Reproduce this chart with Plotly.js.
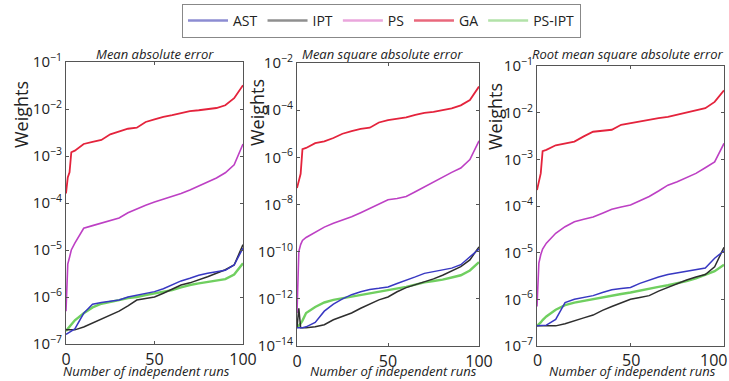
<!DOCTYPE html>
<html>
<head>
<meta charset="utf-8">
<script src="https://cdn.plot.ly/plotly-3.0.1.min.js"></script>
<style>html,body{margin:0;padding:0;background:#fff}#chart{width:729px;height:381px}</style>
</head>
<body>
<div id="chart"></div>
<script>
// Run index (sorted independent runs)
const runs = [0,1,2,3,5,10,15,20,25,30,35,40,45,50,55,60,65,70,75,80,85,90,95,100];

const seriesNames = ["AST","IPT","PS","GA","PS-IPT"];
const panelTitles = ["Mean absolute error","Mean square absolute error","Root mean square absolute error"];
const xTitle = "Number of independent runs";
const yTitle = "Weights";

// Panel 1: Mean absolute error
const ast1 = [1.6e-7,1.7e-7,1.8e-7,1.9e-7,2.1e-7,4.5e-7,7e-7,7.6e-7,8.1e-7,8.6e-7,1.0e-6,1.1e-6,1.2e-6,1.3e-6,1.5e-6,1.8e-6,2.2e-6,2.5e-6,2.9e-6,3.2e-6,3.5e-6,3.7e-6,4.8e-6,1.1e-5];
const ipt1 = [2.0e-7,2.0e-7,2.0e-7,2.0e-7,2.0e-7,2.3e-7,2.8e-7,3.5e-7,4.2e-7,5e-7,6.5e-7,8.6e-7,9.3e-7,1.0e-6,1.2e-6,1.5e-6,1.8e-6,2.0e-6,2.3e-6,2.7e-6,3.2e-6,3.8e-6,4.8e-6,1.3e-5];
const ps1  = [5e-7,5e-6,7e-6,1e-5,1.4e-5,2.9e-5,3.3e-5,3.7e-5,4.2e-5,4.8e-5,6.2e-5,7.6e-5,9e-5,1.05e-4,1.2e-4,1.35e-4,1.6e-4,1.9e-4,2.3e-4,2.8e-4,3.4e-4,4.4e-4,6.5e-4,1.8e-3];
const ga1  = [1.6e-4,3.5e-4,4.5e-4,1.2e-3,1.3e-3,1.8e-3,2.0e-3,2.2e-3,2.9e-3,3.3e-3,3.8e-3,4.0e-3,5.3e-3,6.0e-3,6.8e-3,7.4e-3,8.3e-3,9.0e-3,9.4e-3,1.0e-2,1.05e-2,1.2e-2,1.7e-2,3.2e-2];
const psipt1 = [1.9e-7,2.1e-7,2.4e-7,2.7e-7,3.2e-7,4.5e-7,6e-7,7.2e-7,8e-7,8.6e-7,9.5e-7,1.0e-6,1.1e-6,1.2e-6,1.3e-6,1.4e-6,1.6e-6,1.8e-6,1.95e-6,2.1e-6,2.2e-6,2.4e-6,3.0e-6,5.2e-6];

// Panel 2: Mean square absolute error
const ast2 = [6e-14,6e-14,6e-14,6e-14,6.5e-14,1e-13,3e-13,6e-13,1.0e-12,1.5e-12,2e-12,2.5e-12,2.8e-12,3.2e-12,4.5e-12,6e-12,8.5e-12,1.2e-11,1.4e-11,1.6e-11,2e-11,2.8e-11,6e-11,1.3e-10];
const ipt2 = [6e-14,4e-13,6e-14,6e-14,6e-14,6.5e-14,8e-14,1.3e-13,1.8e-13,2.5e-13,4e-13,6e-13,9e-13,1.2e-12,2e-12,3e-12,4e-12,5e-12,7e-12,1e-11,1.5e-11,2.3e-11,4.5e-11,1.6e-10];
const ps2  = [2.5e-13,1e-10,2e-10,3e-10,4e-10,6.5e-10,1.1e-9,1.6e-9,2.2e-9,3e-9,4.5e-9,7e-9,1.1e-8,1.6e-8,1.8e-8,2.2e-8,3.5e-8,5.6e-8,9e-8,1.5e-7,2.3e-7,3.5e-7,8e-7,5e-6];
const ga2  = [5e-8,1e-7,2e-7,2.2e-6,2.5e-6,4e-6,4.8e-6,6.6e-6,1.0e-5,1.3e-5,1.6e-5,1.8e-5,3.0e-5,3.8e-5,4.4e-5,5e-5,6.3e-5,7.6e-5,8.5e-5,1.0e-4,1.2e-4,1.6e-4,2.7e-4,1.0e-3];
const psipt2 = [6e-14,7e-14,9e-14,1.2e-13,2.5e-13,4.5e-13,7e-13,9e-13,1.05e-12,1.2e-12,1.45e-12,1.7e-12,1.95e-12,2.2e-12,2.6e-12,3.2e-12,4e-12,5e-12,5.7e-12,6.5e-12,8e-12,1e-11,1.6e-11,3.6e-11];

// Panel 3: Root mean square absolute error
const ast3 = [2.7e-7,2.7e-7,2.7e-7,2.7e-7,2.8e-7,3.7e-7,8.5e-7,1.0e-6,1.1e-6,1.2e-6,1.4e-6,1.6e-6,1.7e-6,1.8e-6,2.2e-6,2.6e-6,3.0e-6,3.4e-6,3.7e-6,4e-6,4.3e-6,4.7e-6,7.6e-6,1.1e-5];
const ipt3 = [2.7e-7,2.7e-7,2.7e-7,2.7e-7,2.7e-7,2.7e-7,3e-7,3.4e-7,4e-7,4.6e-7,5.8e-7,7e-7,8.5e-7,1.0e-6,1.1e-6,1.2e-6,1.5e-6,1.8e-6,2.2e-6,2.6e-6,3.0e-6,3.4e-6,5e-6,1.3e-5];
const ps3  = [7e-7,6e-6,9e-6,1.2e-5,1.6e-5,2.6e-5,3.6e-5,4.6e-5,5.2e-5,5.8e-5,7e-5,8.5e-5,9.5e-5,1.05e-4,1.3e-4,1.6e-4,2.1e-4,2.8e-4,3.3e-4,4e-4,5e-4,6.6e-4,8.8e-4,2.2e-3];
const ga3  = [2.2e-4,3.5e-4,5e-4,1.5e-3,1.6e-3,2e-3,2.2e-3,2.4e-3,3.1e-3,3.9e-3,4.1e-3,4.3e-3,5.5e-3,6e-3,6.5e-3,7e-3,7.6e-3,8.1e-3,9e-3,1.0e-2,1.1e-2,1.25e-2,1.7e-2,3e-2];
const psipt3 = [2.7e-7,2.9e-7,3.2e-7,3.6e-7,4.3e-7,6e-7,7.5e-7,8.5e-7,9.3e-7,1.0e-6,1.1e-6,1.2e-6,1.3e-6,1.4e-6,1.55e-6,1.7e-6,1.85e-6,2e-6,2.2e-6,2.45e-6,2.8e-6,3.3e-6,4e-6,5.5e-6];

// Y tick exponents per panel
const yExp1 = [-7,-6,-5,-4,-3,-2,-1];
const yExp2 = [-14,-12,-10,-8,-6,-4,-2];
const yExp3 = [-7,-6,-5,-4,-3,-2,-1];
const xTicks = [0,50,100];

const lineColors = {"AST":"#3838c2","IPT":"#2e2e2e","PS":"#bd40c4","GA":"#e4233c","PS-IPT":"#70cf60"};
const legendColors = {"AST":"#8c8cd2","IPT":"#8f8f8f","PS":"#eaa6dc","GA":"#e9687c","PS-IPT":"#b2e2a8"};
const lineWidths = {"AST":1.5,"IPT":1.5,"PS":1.6,"GA":1.8,"PS-IPT":2.4};

const panels = [
  {AST:ast1, IPT:ipt1, PS:ps1, GA:ga1, "PS-IPT":psipt1},
  {AST:ast2, IPT:ipt2, PS:ps2, GA:ga2, "PS-IPT":psipt2},
  {AST:ast3, IPT:ipt3, PS:ps3, GA:ga3, "PS-IPT":psipt3}
];
const drawOrder = ["GA","PS","PS-IPT","IPT","AST"];

const traces = [];
panels.forEach((p, i) => {
  const sfx = i === 0 ? "" : String(i+1);
  drawOrder.forEach(name => {
    traces.push({
      x: runs, y: p[name], type: "scatter", mode: "lines",
      xaxis: "x" + sfx, yaxis: "y" + sfx,
      line: {color: lineColors[name], width: lineWidths[name]},
      showlegend: false, hoverinfo: "skip"
    });
  });
});
// legend entries
seriesNames.forEach(name => {
  traces.push({
    x: [null], y: [null], type: "scatter", mode: "lines", name: name,
    line: {color: legendColors[name], width: 2.5}, showlegend: true
  });
});

const W = 729, H = 381;
const fx = px => px / W;
const fy = py => 1 - py / H;

function yTickText(exps){ return exps.map(e => "10<sup>" + (e < 0 ? "\u2212" : "") + Math.abs(e) + "</sup>"); }

const tickFont = {family: "Open Sans, sans-serif", size: 15, color: "#222"};
const xTickFont = {family:"Open Sans, sans-serif", size: 16, color:"#222"};
function xAxis(dom, anchor, showLabels){
  return {domain: dom, anchor: anchor, range: [0,100], tickvals: xTicks, ticktext: xTicks.map(String),
    showticklabels: showLabels,
    showline: true, mirror: "ticks", linecolor: "#555", linewidth: 1, ticks: "inside", ticklen: 3,
    tickcolor: "#555", showgrid: false, zeroline: false,
    tickfont: xTickFont, ticklabelstandoff: 1};
}
function yAxis(dom, anchor, exps){
  return {domain: dom, anchor: anchor, type: "log", range: [exps[0], exps[exps.length-1]],
    tickvals: exps.map(e => Math.pow(10, e)), ticktext: yTickText(exps),
    showline: true, mirror: "ticks", linecolor: "#555", linewidth: 1, ticks: "inside", ticklen: 3,
    tickcolor: "#555", showgrid: false, zeroline: false, tickfont: tickFont};
}

const xd = [[fx(66), fx(243)], [fx(297), fx(479)], [fx(537), fx(724)]];
const yd = [[fy(344), fy(62)], [fy(346), fy(63)], [fy(346), fy(66)]];

const annFont = {family: "Open Sans, sans-serif", size: 13, color: "#222", style: "italic"};
const annotations = [];
const titleX = [155, 382, 627];
const xTitleX = [146, 394, 632];
const yTitleX = [21, 257, 495];
const yTitleY = [115, 113, 117];
for (let i = 0; i < 3; i++) {
  annotations.push({xref:"paper", yref:"paper", x: fx(titleX[i]), y: fy(54), text: panelTitles[i],
    showarrow: false, font: annFont, xanchor: "center", yanchor: "middle"});
  annotations.push({xref:"paper", yref:"paper", x: fx(xTitleX[i]), y: fy(381), text: xTitle,
    showarrow: false, font: annFont, xanchor: "center", yanchor: "bottom", borderpad: 0});
  annotations.push({xref:"paper", yref:"paper", x: fx(yTitleX[i]), y: fy(yTitleY[i]), text: yTitle,
    showarrow: false, textangle: -90, font: {family:"Open Sans, sans-serif", size: 18, color:"#222"},
    xanchor: "center", yanchor: "middle"});
}
// Panel 3 x tick labels placed on its own axis scale (last one kept inside the page edge)
xTicks.forEach((t, k) => {
  const last = k === xTicks.length - 1;
  annotations.push({xref: "x3", yref: "paper", x: t, y: fy(347), yanchor: "top",
    xanchor: last ? "right" : "center", xshift: last ? 5 : 0,
    text: String(t), showarrow: false, font: xTickFont});
});

const layout = {
  width: W, height: H, margin: {l:0, r:0, t:0, b:0},
  paper_bgcolor: "#fff", plot_bgcolor: "#fff",
  font: {family: "Open Sans, sans-serif", color: "#222"},
  xaxis: xAxis(xd[0], "y", true), yaxis: yAxis(yd[0], "x", yExp1),
  xaxis2: xAxis(xd[1], "y2", true), yaxis2: yAxis(yd[1], "x2", yExp2),
  xaxis3: xAxis(xd[2], "y3", false), yaxis3: yAxis(yd[2], "x3", yExp3),
  showlegend: true,
  legend: {orientation: "h", x: fx(182), xanchor: "left", y: fy(4), yanchor: "top",
    bordercolor: "#888", borderwidth: 1, bgcolor: "#fff",
    font: {family: "Open Sans, sans-serif", size: 14, color: "#222"}, tracegroupgap: 0, itemwidth: 40},
  annotations: annotations
};

Plotly.newPlot("chart", traces, layout, {staticPlot: true, displayModeBar: false});
</script>
</body>
</html>
